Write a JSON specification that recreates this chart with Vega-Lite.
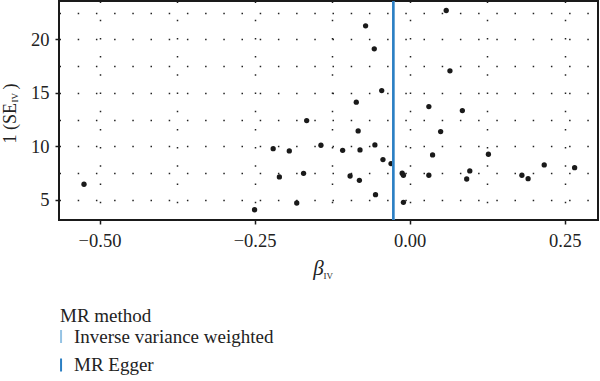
{
  "$schema": "https://vega.github.io/schema/vega-lite/v6.json",
  "width": 539,
  "height": 219,
  "autosize": "none",
  "padding": {"left": 59, "top": 1, "right": 2, "bottom": 161},
  "background": "white",
  "datasets": {
    "pts": [
      {"beta": -0.525, "inv_se": 6.47},
      {"beta": -0.250, "inv_se": 4.09},
      {"beta": -0.220, "inv_se": 9.79},
      {"beta": -0.210, "inv_se": 7.15},
      {"beta": -0.194, "inv_se": 9.58},
      {"beta": -0.182, "inv_se": 4.72},
      {"beta": -0.171, "inv_se": 7.49},
      {"beta": -0.166, "inv_se": 12.41},
      {"beta": -0.143, "inv_se": 10.11},
      {"beta": -0.108, "inv_se": 9.64},
      {"beta": -0.096, "inv_se": 7.24},
      {"beta": -0.086, "inv_se": 14.13},
      {"beta": -0.083, "inv_se": 11.45},
      {"beta": -0.081, "inv_se": 6.84},
      {"beta": -0.080, "inv_se": 9.67},
      {"beta": -0.071, "inv_se": 21.26},
      {"beta": -0.057, "inv_se": 19.11},
      {"beta": -0.056, "inv_se": 10.14},
      {"beta": -0.055, "inv_se": 5.50},
      {"beta": -0.045, "inv_se": 15.21},
      {"beta": -0.043, "inv_se": 8.77},
      {"beta": -0.030, "inv_se": 8.40},
      {"beta": -0.012, "inv_se": 7.50},
      {"beta": -0.010, "inv_se": 7.30},
      {"beta": -0.010, "inv_se": 4.78},
      {"beta": 0.031, "inv_se": 13.72},
      {"beta": 0.031, "inv_se": 7.31},
      {"beta": 0.037, "inv_se": 9.21},
      {"beta": 0.050, "inv_se": 11.39},
      {"beta": 0.059, "inv_se": 22.69},
      {"beta": 0.065, "inv_se": 17.06},
      {"beta": 0.085, "inv_se": 13.35},
      {"beta": 0.092, "inv_se": 6.96},
      {"beta": 0.097, "inv_se": 7.71},
      {"beta": 0.127, "inv_se": 9.27},
      {"beta": 0.181, "inv_se": 7.31},
      {"beta": 0.191, "inv_se": 6.99},
      {"beta": 0.217, "inv_se": 8.27},
      {"beta": 0.266, "inv_se": 8.02}
    ],
    "lines": [
      {"method": "Inverse variance weighted", "b": -0.0263},
      {"method": "MR Egger", "b": -0.0263}
    ]
  },
  "layer": [
    {
      "data": {"name": "pts"},
      "mark": {"type": "circle", "size": 28, "color": "#1a1a1a", "opacity": 1},
      "encoding": {
        "x": {
          "field": "beta", "type": "quantitative",
          "scale": {"domain": [-0.5653, 0.3037], "nice": false, "zero": false},
          "axis": {
            "orient": "bottom",
            "values": [-0.5, -0.375, -0.25, -0.125, 0, 0.125, 0.25],
            "labelExpr": "abs(datum.value*4 - round(datum.value*4)) < 0.001 ? format(datum.value, '.2f') : ''",
            "tickOpacity": {"condition": {"test": "abs(datum.value*4 - round(datum.value*4)) < 0.001", "value": 1}, "value": 0},
            "grid": true,
            "labelFont": "Liberation Serif",
            "labelFontSize": 18.5,
            "labelPadding": 7,
            "title": "β",
            "titleFont": "Liberation Serif",
            "titleFontStyle": "italic",
            "titleFontWeight": "normal",
            "titleFontSize": 21,
            "titleAlign": "center",
            "titleBaseline": "alphabetic",
            "titleX": 259,
            "titleY": 54
          }
        },
        "y": {
          "field": "inv_se", "type": "quantitative",
          "scale": {"domain": [3.133, 23.575], "nice": false, "zero": false},
          "axis": {
            "orient": "left",
            "values": [5, 7.5, 10, 12.5, 15, 17.5, 20, 22.5],
            "labelExpr": "datum.value % 5 == 0 ? format(datum.value, 'd') : ''",
            "tickOpacity": {"condition": {"test": "datum.value % 5 == 0", "value": 1}, "value": 0},
            "grid": true,
            "labelFont": "Liberation Serif",
            "labelFontSize": 18.5,
            "labelPadding": 6,
            "title": "1 (SE\u00a0\u00a0\u00a0)",
            "titleFont": "Liberation Serif",
            "titleFontWeight": "normal",
            "titleFontSize": 18,
            "titleAngle": -90,
            "titleAlign": "left",
            "titleBaseline": "alphabetic",
            "titleX": -44,
            "titleY": 142
          }
        }
      }
    },
    {
      "data": {"name": "lines"},
      "mark": {"type": "rule", "strokeWidth": 2.5},
      "encoding": {
        "x": {
          "field": "b", "type": "quantitative",
          "axis": {
            "orient": "bottom",
            "labels": false, "ticks": false, "grid": false, "domain": false,
            "title": "IV",
            "titleFont": "Liberation Serif",
            "titleFontWeight": "normal",
            "titleFontSize": 9,
            "titleAlign": "left",
            "titleBaseline": "alphabetic",
            "titleX": 264,
            "titleY": 58
          }
        },
        "color": {
          "field": "method", "type": "nominal",
          "scale": {"domain": ["Inverse variance weighted", "MR Egger"], "range": ["#95c3e4", "#2b7fc3"]},
          "legend": {
            "title": "MR method",
            "orient": "none",
            "legendX": 1,
            "legendY": 306,
            "direction": "vertical",
            "symbolType": "M-1.3,-1L-1.3,1",
            "symbolSize": 169,
            "symbolStrokeWidth": 2,
            "labelOffset": -5,
            "labelLimit": 0,
            "rowPadding": 7.5,
            "titlePadding": 1
          }
        }
      }
    },
    {
      "data": {"name": "pts"},
      "mark": {"type": "circle", "opacity": 0},
      "encoding": {
        "x": {"field": "beta", "type": "quantitative", "axis": null},
        "y": {
          "field": "inv_se", "type": "quantitative",
          "axis": {
            "orient": "left",
            "labels": false, "ticks": false, "grid": false, "domain": false,
            "title": "IV",
            "titleFont": "Liberation Serif",
            "titleFontWeight": "normal",
            "titleFontSize": 9,
            "titleAngle": -90,
            "titleAlign": "left",
            "titleBaseline": "alphabetic",
            "titleX": -42,
            "titleY": 101
          }
        }
      }
    }
  ],
  "resolve": {"axis": {"x": "independent", "y": "independent"}},
  "config": {
    "view": {"stroke": "#1a1a1a", "strokeWidth": 2},
    "font": "Liberation Serif",
    "axis": {
      "domain": false,
      "labelFont": "Liberation Serif",
      "labelFontSize": 18,
      "labelColor": "#222222",
      "tickColor": "#1a1a1a",
      "tickWidth": 1.5,
      "tickSize": 4,
      "gridColor": "#222222",
      "gridWidth": 1.5,
      "gridDash": [1.5, 16.7],
      "gridOpacity": 1,
      "titleColor": "#222222"
    },
    "legend": {
      "titleFont": "Liberation Serif",
      "titleFontSize": 19,
      "titleFontWeight": "normal",
      "titleColor": "#222222",
      "labelFont": "Liberation Serif",
      "labelFontSize": 19,
      "labelColor": "#222222"
    }
  }
}
